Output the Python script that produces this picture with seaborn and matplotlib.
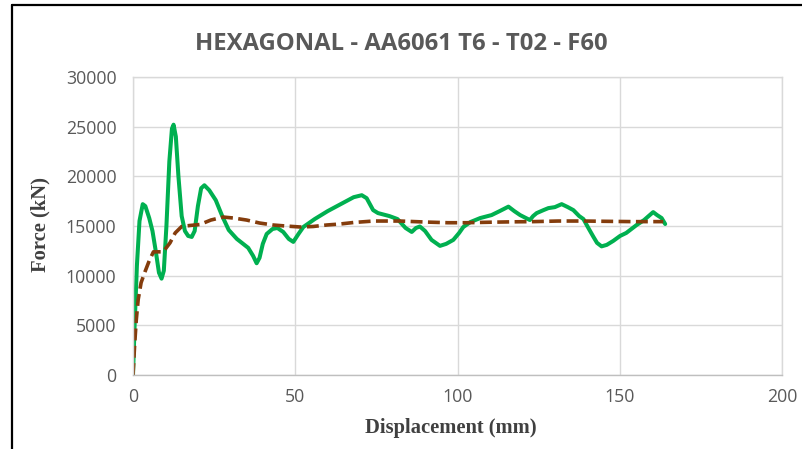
import matplotlib
matplotlib.use("Agg")
import matplotlib.pyplot as plt
from matplotlib.lines import Line2D
import seaborn as sns
import pandas as pd

# Green measured curve (displacement mm, force kN)
green_x = [0, 0.5, 1.2, 2.0, 3.0, 3.8, 5.0, 6.0, 7.0, 8.0, 8.8, 9.5, 10.3, 11.2, 12.0, 12.5,
           13.2, 14.0, 15.0, 16.0, 17.0, 18.1, 19.0, 20.0, 21.0, 22.0, 23.5, 25.5, 27.5, 29.5,
           32.0, 35.5, 37.0, 38.1, 39.0, 40.0, 41.2, 43.0, 44.5, 46.3, 48.0, 49.4, 51.0, 52.5,
           56, 60, 64, 68, 70.5, 72, 74, 75.5, 79, 81.5, 84, 85.9, 87.2, 88.4, 90, 92, 94.6,
           96.5, 98.7, 100.5, 101.8, 104, 107, 110.5, 113, 115.7, 117.5, 119.3, 122.3, 123.3,
           124.4, 126.5, 128, 130, 132.1, 134, 135.7, 137.5, 138.8, 140.5, 141.9, 143, 144.4,
           146, 148, 150.1, 152, 153.2, 155.2, 157.5, 160.3, 161.5, 162.9, 164]
green_y = [0, 5000, 11000, 15500, 17200, 17000, 15800, 14500, 12500, 10300, 9700, 10500, 15000,
           21500, 24800, 25200, 24000, 20000, 16000, 14500, 14000, 13900, 14500, 17000, 18800,
           19100, 18600, 17600, 16000, 14600, 13700, 12800, 12000, 11250, 11800, 13200, 14200,
           14700, 14800, 14400, 13700, 13400, 14200, 14900, 15700, 16500, 17200, 17900, 18100,
           17800, 16600, 16300, 16000, 15700, 14800, 14400, 14800, 14950, 14500, 13600, 13000,
           13200, 13600, 14300, 14900, 15400, 15800, 16100, 16500, 16950, 16500, 16100, 15600,
           16000, 16300, 16600, 16800, 16900, 17200, 16900, 16600, 16000, 15700, 14700, 13900,
           13300, 12950, 13100, 13500, 14000, 14300, 14600, 15100, 15600, 16400, 16100, 15800,
           15200]

# Brown dashed curve
brown_x = [0, 0.5, 1.0, 1.6, 2.5, 3.7, 5.0, 6.3, 8.0, 9.3, 11.4, 13.0, 15.0, 17.5, 20.6, 24.0,
           27.8, 31.0, 35.0, 39.0, 43.2, 47.0, 51.5, 55.5, 59.7, 63.8, 67.9, 74.1, 82.3, 90, 97,
           102.8, 110, 117, 123.4, 131, 138.8, 146, 154.2, 163.4]
brown_y = [0, 3000, 5500, 7600, 9300, 10400, 11500, 12400, 12400, 12400, 13300, 14300, 14950,
           15050, 15150, 15600, 15900, 15800, 15600, 15300, 15100, 15000, 14900, 14950, 15100,
           15200, 15350, 15500, 15500, 15400, 15330, 15330, 15380, 15420, 15440, 15500, 15500,
           15470, 15440, 15440]

x_ticks = [0, 50, 100, 150, 200]
y_ticks = [0, 5000, 10000, 15000, 20000, 25000, 30000]

title = "HEXAGONAL - AA6061 T6 - T02 - F60"
x_label = "Displacement (mm)"
y_label = "Force (kN)"

sns.set_theme(style="white")
plt.rcParams['font.family'] = ['Open Sans', 'DejaVu Sans']

fig = plt.figure(figsize=(8.02, 4.49), dpi=100)
ax = fig.add_axes([133/802, 1-375/449, (782-133)/802, (375-77)/449])

dfg = pd.DataFrame({"x": green_x, "y": green_y})
dfb = pd.DataFrame({"x": brown_x, "y": brown_y})
sns.lineplot(data=dfg, x="x", y="y", ax=ax, sort=False, estimator=None,
             color="#00B050", linewidth=2.9, solid_joinstyle="round", solid_capstyle="round")
sns.lineplot(data=dfb, x="x", y="y", ax=ax, sort=False, estimator=None,
             color="#843C0C", linewidth=2.6, linestyle=(0, (3.3, 1.5)))

ax.set_xlim(0, 200)
ax.set_ylim(0, 30000)
ax.set_xticks(x_ticks)
ax.set_yticks(y_ticks)
ax.grid(True, color="#D9D9D9", linewidth=1.0)
ax.set_axisbelow(True)
for s in ax.spines.values():
    s.set_color("#D9D9D9")
    s.set_linewidth(1.0)
ax.spines["bottom"].set_color("#BFBFBF")
ax.tick_params(axis="both", length=0, labelsize=12.8, labelcolor="#595959")
ax.tick_params(axis="y", pad=12)
ax.tick_params(axis="x", pad=9)

ax.set_xlabel(x_label, fontsize=14.8, fontweight="bold", family="Liberation Serif",
              color="#404040")
ax.set_ylabel(y_label, fontsize=14.8, fontweight="bold", family="Liberation Serif",
              color="#404040")
ax.xaxis.label.set_va("center")
ax.yaxis.label.set_va("center")
ax.xaxis.set_label_coords((451-133)/649, (375-428)/298)
ax.yaxis.set_label_coords((40-133)/649, (375-225)/298)

fig.text(401/802, 1-43.5/449, title, ha="center", va="center", fontsize=17.2,
         fontweight="bold", color="#595959")

# outer frame (top and left visible)
fig.add_artist(Line2D([12/802, 12/802], [0, 1-5/449], transform=fig.transFigure,
                      color="black", linewidth=1.6))
fig.add_artist(Line2D([12/802, 1], [1-5/449, 1-5/449], transform=fig.transFigure,
                      color="black", linewidth=1.6))

fig.savefig("out.png", dpi=100)
